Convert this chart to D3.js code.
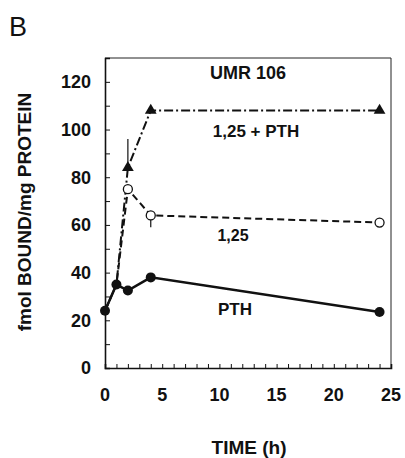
<!DOCTYPE html>
<html>
<head>
<meta charset="utf-8">
<script src="https://cdn.jsdelivr.net/npm/d3@7"></script>
<style>
  body { margin: 0; background: #fff; }
  text { font-family: "Liberation Sans", Arial, sans-serif; fill: #111; }
</style>
</head>
<body>
<div id="chart"></div>
<script>
const [W, H] = [405, 458];

// data
const times = [0, 1, 2, 4, 24];
const combined = [24, 35, 84, 108, 108];   // 1,25 + PTH
const vitD = [24, 35, 75, 64, 61];         // 1,25
const pth = [24, 35, 32.5, 38, 23.5];      // PTH
const errBars = [
    {t: 2, from: 84, to: 96},
    {t: 4, from: 64, to: 59}
];
const xTicks = [0, 5, 10, 15, 20, 25];
const yTicks = [0, 20, 40, 60, 80, 100, 120];

const x = d3.scaleLinear().domain([0, 25]).range([105, 391]);
const y = d3.scaleLinear().domain([0, 130]).range([368, 58]);

const svg = d3.select('#chart').append('svg').attr('width', W).attr('height', H);

// frame
svg.append('line').attr('x1', 105).attr('x2', 391).attr('y1', 58).attr('y2', 58)
    .attr('stroke', '#222').attr('stroke-width', 1);
svg.append('line').attr('x1', 391).attr('x2', 391).attr('y1', 58).attr('y2', 368)
    .attr('stroke', '#222').attr('stroke-width', 1);

// axes, ticks inward
const yAxis = svg.append('g').attr('transform', 'translate(105,0)')
    .call(d3.axisRight(y).tickValues(d3.range(0, 131, 10)).tickSize(5).tickFormat(''));
const xAxis = svg.append('g').attr('transform', 'translate(0,368)')
    .call(d3.axisTop(x).tickValues(d3.range(0, 26, 1)).tickSize(4).tickFormat(''));
[xAxis, yAxis].forEach(function (g) {
    g.select('.domain').attr('stroke', '#111').attr('stroke-width', 1.6);
    g.selectAll('.tick line').attr('stroke', '#111').attr('stroke-width', 1);
});

svg.append('g').selectAll('text').data(yTicks).enter().append('text')
    .attr('x', 91).attr('y', function (d) { return y(d); }).attr('dy', '0.35em')
    .attr('text-anchor', 'end').attr('font-size', 18).attr('font-weight', 'bold')
    .text(function (d) { return d; });

svg.append('g').selectAll('text').data(xTicks).enter().append('text')
    .attr('x', function (d) { return x(d); }).attr('y', 395).attr('dy', '0.35em')
    .attr('text-anchor', 'middle').attr('font-size', 18).attr('font-weight', 'bold')
    .text(function (d) { return d; });

// lines
function series(vals) {
    return times.map(function (t, i) { return {t: t, v: vals[i]}; });
}
const line = d3.line().x(function (d) { return x(d.t); }).y(function (d) { return y(d.v); });

svg.append('path').datum(series(combined)).attr('d', line).attr('fill', 'none')
    .attr('stroke', '#111').attr('stroke-width', 2).attr('stroke-dasharray', '9,3,2,3');
svg.append('path').datum(series(vitD)).attr('d', line).attr('fill', 'none')
    .attr('stroke', '#111').attr('stroke-width', 2).attr('stroke-dasharray', '7,4');
svg.append('path').datum(series(pth)).attr('d', line).attr('fill', 'none')
    .attr('stroke', '#111').attr('stroke-width', 2.5);

// error bars
svg.append('g').selectAll('line').data(errBars).enter().append('line')
    .attr('x1', function (d) { return x(d.t); }).attr('x2', function (d) { return x(d.t); })
    .attr('y1', function (d) { return y(d.from); }).attr('y2', function (d) { return y(d.to); })
    .attr('stroke', '#111').attr('stroke-width', 1.2);

// markers
svg.append('g').selectAll('circle').data(series(pth)).enter().append('circle')
    .attr('cx', function (d) { return x(d.t); }).attr('cy', function (d) { return y(d.v); })
    .attr('r', 5).attr('fill', '#111');
svg.append('g').selectAll('circle').data(series(vitD).slice(2)).enter().append('circle')
    .attr('cx', function (d) { return x(d.t); }).attr('cy', function (d) { return y(d.v); })
    .attr('r', 4.5).attr('fill', '#fff').attr('stroke', '#111').attr('stroke-width', 1.3);
const tri = d3.symbol().type(d3.symbolTriangle).size(60);
svg.append('g').selectAll('path').data(series(combined).slice(2)).enter().append('path')
    .attr('d', tri).attr('fill', '#111')
    .attr('transform', function (d) { return 'translate(' + x(d.t) + ',' + y(d.v) + ')'; });

// labels
svg.append('text').attr('x', 9).attr('y', 36).attr('font-size', 27).text('B');
svg.append('text').attr('x', 248).attr('y', 79).attr('text-anchor', 'middle')
    .attr('font-size', 18).attr('font-weight', 'bold').text('UMR 106');
svg.append('text').attr('x', 256).attr('y', 137).attr('text-anchor', 'middle')
    .attr('font-size', 17).attr('font-weight', 'bold').text('1,25 + PTH');
svg.append('text').attr('x', 233).attr('y', 241).attr('text-anchor', 'middle')
    .attr('font-size', 16).attr('font-weight', 'bold').text('1,25');
svg.append('text').attr('x', 235).attr('y', 315).attr('text-anchor', 'middle')
    .attr('font-size', 17).attr('font-weight', 'bold').text('PTH');
svg.append('text').attr('x', 249).attr('y', 454).attr('text-anchor', 'middle')
    .attr('font-size', 19).attr('font-weight', 'bold').text('TIME (h)');
svg.append('text').attr('transform', 'translate(31,212) rotate(-90)').attr('text-anchor', 'middle')
    .attr('font-size', 19).attr('font-weight', 'bold').text('fmol BOUND/mg PROTEIN');
</script>
</body>
</html>
